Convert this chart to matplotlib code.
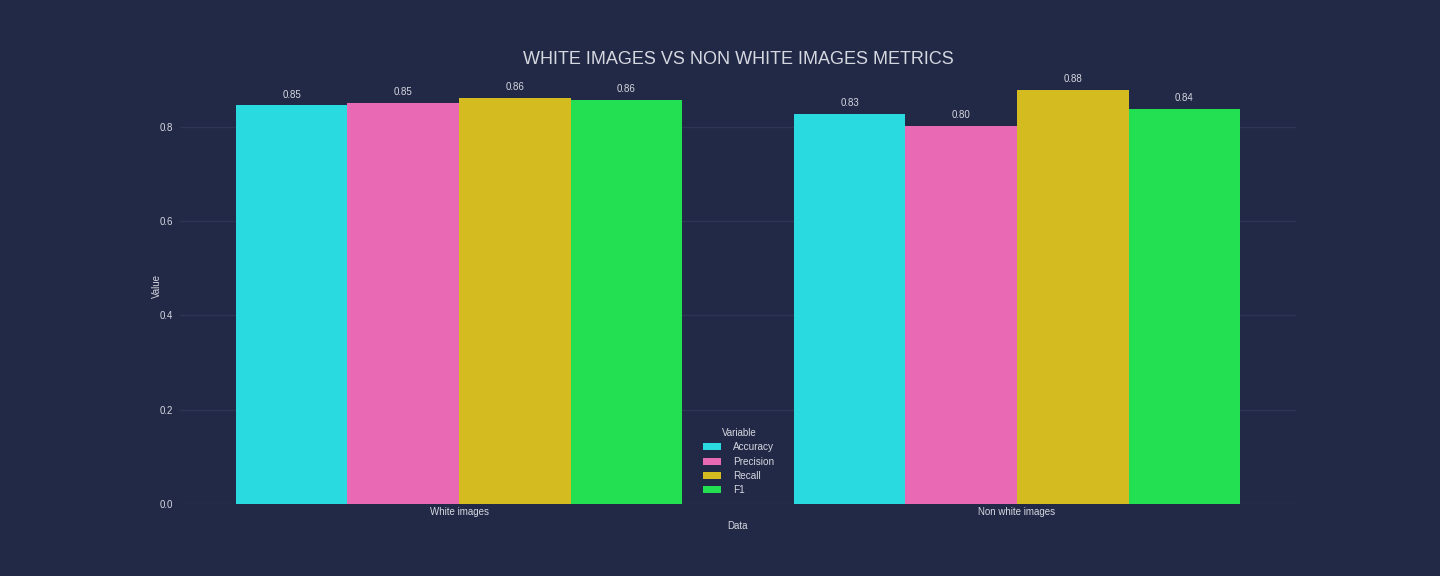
import numpy as np
import matplotlib.pyplot as plt

categories = ["White images", "Non white images"]
metrics = ["Accuracy", "Precision", "Recall", "F1"]
accuracy = [0.846, 0.828]
precision = [0.851, 0.802]
recall = [0.862, 0.879]
f1 = [0.857, 0.838]
values = [accuracy, precision, recall, f1]
colors = ["#29dbe0", "#e969b4", "#d4bc20", "#22e052"]

bg = "#222946"
text_c = "#d6d8e0"
grid_c = "#2e3554"

plt.rcParams["font.family"] = ["Liberation Sans", "DejaVu Sans"]

fig = plt.figure(figsize=(14.4, 5.76), dpi=100, facecolor=bg)
ax = fig.add_axes([0.125, 0.125, 0.775, 0.757], facecolor=bg)

x = np.arange(len(categories))
w = 0.2
for i, (name, vals) in enumerate(zip(metrics, values)):
    pos = x - 0.3 + i * w
    ax.bar(pos, vals, width=w, color=colors[i], label=name, zorder=2)
    for p, v in zip(pos, vals):
        ax.text(p, v + 0.012, f"{v:.2f}", ha="center", va="bottom",
                color=text_c, fontsize=7)

ax.set_xlim(-0.5, 1.5)
ax.set_ylim(0, 0.925)
ax.set_xticks(x)
ax.set_xticklabels(categories)
ax.set_yticks([0, 0.2, 0.4, 0.6, 0.8])
ax.set_yticklabels(["0.0", "0.2", "0.4", "0.6", "0.8"])
ax.tick_params(colors=text_c, labelsize=7, length=0)
ax.tick_params(axis="x", pad=2)
ax.tick_params(axis="y", pad=5)
ax.grid(axis="y", color=grid_c, linewidth=1, zorder=0)
for s in ax.spines.values():
    s.set_visible(False)

ax.set_xlabel("Data", color=text_c, fontsize=7, labelpad=3)
ax.set_ylabel("Value", color=text_c, fontsize=7, labelpad=-2)
ax.set_title("WHITE IMAGES VS NON WHITE IMAGES METRICS", color=text_c,
             fontsize=13, pad=2)

leg = ax.legend(title="Variable", loc="lower left",
                bbox_to_anchor=(0.461, 0.0), frameon=False, fontsize=7.2,
                title_fontsize=7, handlelength=1.8, handleheight=0.7,
                handletextpad=1.2, labelspacing=0.42)
for t in leg.get_texts():
    t.set_color(text_c)
leg.get_title().set_color(text_c)

fig.savefig("out.png", dpi=100, facecolor=bg)
